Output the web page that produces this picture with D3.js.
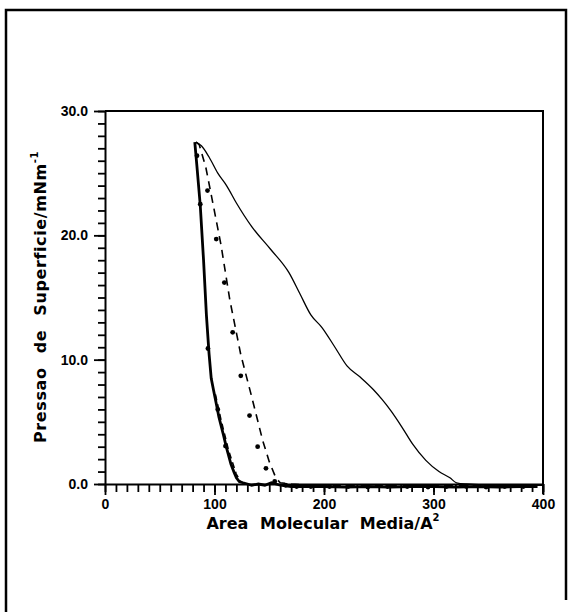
<!DOCTYPE html>
<html>
<head>
<meta charset="utf-8">
<script src="https://cdn.jsdelivr.net/npm/d3@7"></script>
<style>
  body { margin: 0; background: #fff; }
  text { font-family: "DejaVu Sans", "Liberation Sans", sans-serif; font-weight: bold; fill: #000; }
  .tick text { font-family: "Liberation Sans", Arial, sans-serif; }
</style>
</head>
<body>
<div id="chart"></div>
<script>
// isotherm curves (area in A^2, pressure in mN/m)
var thinArea  = [83, 88, 95, 103, 111, 120, 134, 151, 168, 178, 188, 198, 210, 221, 233, 245, 253, 261, 271, 281, 293, 305, 315, 321, 330, 360, 400];
var thinPress = [27.5, 27.2, 26.3, 25.0, 24.0, 22.6, 20.7, 18.9, 17.0, 15.3, 13.6, 12.6, 11.0, 9.5, 8.6, 7.6, 6.8, 5.9, 4.6, 3.2, 1.9, 1.0, 0.5, 0.1, 0.0, -0.1, -0.1];

var thickArea  = [82, 84, 87, 90, 92.6, 95, 97, 99, 102, 104, 108, 111, 115, 118, 120, 122.6, 126, 130, 134, 140, 146, 152, 160, 170, 180, 200, 220, 240, 260, 280, 300, 320, 340, 360, 380, 395];
var thickPress = [27.5, 25.5, 22.4, 18.0, 13.6, 10.5, 8.5, 7.6, 6.3, 5.4, 4.0, 2.9, 1.6, 0.9, 0.5, 0.2, 0.1, 0.0, -0.1, 0.0, -0.1, 0.1, -0.1, -0.2, -0.2, -0.2, -0.25, -0.2, -0.25, -0.2, -0.2, -0.25, -0.2, -0.25, -0.2, -0.2];

var dashArea  = [83, 86, 92, 97.6, 106, 114, 124, 134, 144, 150, 156, 160, 170, 200, 250, 300, 350, 392];
var dashPress = [27.5, 27.3, 25.5, 23.0, 19.2, 14.8, 10.4, 7.0, 3.5, 1.8, 0.5, 0.1, 0.0, -0.15, -0.15, -0.15, -0.15, -0.15];

// dash overlapping the lower part of the steep curve
var lowDashArea  = [99, 104, 111, 118, 122];
var lowDashPress = [7.2, 5.2, 2.7, 0.8, 0.2];

var dotArea  = [84, 87, 93.6, 94, 101.6, 103, 109, 110, 116.6, 124, 132, 139.4, 147, 155, 165, 175, 188, 205, 222, 240, 258, 276, 295, 312, 330, 348, 365, 382];
var dotPress = [26.4, 22.5, 23.6, 10.9, 19.7, 6.0, 16.2, 3.05, 12.2, 8.7, 5.5, 3.0, 1.26, 0.2, -0.1, -0.2, -0.2, -0.2, -0.2, -0.25, -0.2, -0.2, -0.25, -0.2, -0.2, -0.25, -0.2, -0.2];

var xMajor = [0, 100, 200, 300, 400];
var yMajor = [0, 10, 20, 30];

var svg = d3.select("#chart").append("svg")
  .attr("width", 573)
  .attr("height", 616);

// outer frame
svg.append("path")
  .attr("d", "M6,612 L6,10 L566,10 L566,600")
  .attr("fill", "none")
  .attr("stroke", "#000")
  .attr("stroke-width", 2.5);

var x = d3.scaleLinear().domain([0, 400]).range([105, 543]);
var y = d3.scaleLinear().domain([0, 30]).range([484, 111]);

// minor ticks
svg.append("g")
  .attr("transform", "translate(0,484)")
  .call(d3.axisBottom(x).tickValues(d3.range(0, 401, 10)).tickSize(8).tickSizeOuter(0).tickFormat(""))
  .call(g => g.select(".domain").remove());
svg.append("g")
  .attr("transform", "translate(105,0)")
  .call(d3.axisLeft(y).tickValues(d3.range(0, 31, 1)).tickSize(7).tickSizeOuter(0).tickFormat(""))
  .call(g => g.select(".domain").remove());

// major ticks + labels
var xAxis = svg.append("g")
  .attr("transform", "translate(0,484)")
  .call(d3.axisBottom(x).tickValues(xMajor).tickSize(11).tickSizeOuter(0).tickPadding(4).tickFormat(d3.format("d")));
xAxis.selectAll("text").attr("font-size", 14).attr("font-family", null);

var yAxis = svg.append("g")
  .attr("transform", "translate(105,0)")
  .call(d3.axisLeft(y).tickValues(yMajor).tickSize(11).tickSizeOuter(0).tickPadding(6).tickFormat(d3.format(".1f")));
yAxis.selectAll("text").attr("font-size", 14).attr("font-family", null);

svg.selectAll(".tick line").attr("stroke-width", 1.8);
svg.selectAll(".domain").attr("stroke-width", 2);

// top and right borders of the plot
svg.append("path")
  .attr("d", "M" + x(0) + "," + y(30) + " L" + x(400) + "," + y(30) + " L" + x(400) + "," + (y(0) + 10))
  .attr("fill", "none")
  .attr("stroke", "#000")
  .attr("stroke-width", 2);

var line = d3.line()
  .x(d => x(d[0]))
  .y(d => y(d[1]));

function pairs(a, b) { return a.map((v, i) => [v, b[i]]); }

svg.append("path")
  .datum(pairs(thinArea, thinPress))
  .attr("d", line.curve(d3.curveMonotoneX))
  .attr("fill", "none")
  .attr("stroke", "#000")
  .attr("stroke-width", 1.3);

svg.append("path")
  .datum(pairs(thickArea, thickPress))
  .attr("d", line.curve(d3.curveLinear))
  .attr("fill", "none")
  .attr("stroke", "#000")
  .attr("stroke-width", 2.8);

svg.append("path")
  .datum(pairs(dashArea, dashPress))
  .attr("d", line)
  .attr("fill", "none")
  .attr("stroke", "#000")
  .attr("stroke-width", 1.6)
  .attr("stroke-dasharray", "8,6");

svg.append("path")
  .datum(pairs(lowDashArea, lowDashPress))
  .attr("d", line)
  .attr("transform", "translate(2,0)")
  .attr("fill", "none")
  .attr("stroke", "#000")
  .attr("stroke-width", 1.6)
  .attr("stroke-dasharray", "6,4");

svg.append("g")
  .selectAll("circle")
  .data(pairs(dotArea, dotPress))
  .enter()
  .append("circle")
  .attr("cx", d => x(d[0]))
  .attr("cy", d => y(d[1]))
  .attr("r", 2.4)
  .attr("fill", "#000");

// axis titles
svg.append("text")
  .attr("x", 323)
  .attr("y", 529)
  .attr("text-anchor", "middle")
  .attr("font-size", 16)
  .attr("word-spacing", 6)
  .html('Area Molecular Media/A<tspan dy="-8" font-size="10">2</tspan>');

svg.append("text")
  .attr("transform", "translate(46,297) rotate(-90)")
  .attr("text-anchor", "middle")
  .attr("font-size", 16)
  .attr("letter-spacing", 0.6)
  .attr("word-spacing", 8)
  .html('Pressao de Superficie/mNm<tspan dy="-8" font-size="10">-1</tspan>');
</script>
</body>
</html>
